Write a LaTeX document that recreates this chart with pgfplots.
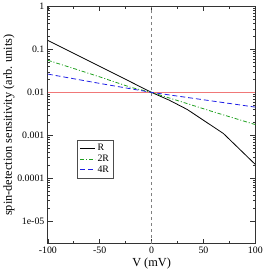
\documentclass[border=0pt]{standalone}
\usepackage{pgfplots}
\pgfplotsset{compat=1.18}
\usepackage{fontspec}
\setmainfont{Liberation Serif}
\definecolor{myred}{RGB}{240,120,120}
\definecolor{mygreen}{RGB}{30,160,30}
\definecolor{myblue}{RGB}{30,30,230}
\begin{document}
\fontsize{10}{12}\selectfont
\begin{tikzpicture}
\begin{axis}[
  name=ax,
  scale only axis,
  width=210bp, height=240bp,
  xmin=-100, xmax=100,
  ymode=log, ymin=3e-6, ymax=1,
  xtick={-100,-50,0,50,100},
  minor x tick num=1,
  ytick={1e-5,1e-4,1e-3,1e-2,1e-1,1},
  yticklabels={1e-05,0.0001,0.001,0.01,0.1,1},
  tick align=inside,
  major tick length=5bp, minor tick length=2.5bp,
  xtick pos=both, ytick pos=both,
  /pgf/number format/assume math mode=true,
  tick label style={font=\fontsize{10}{12}\selectfont},
  xlabel={V (mV)},
  ylabel={spin-detection sensitivity (arb. units)},
  label style={font=\fontsize{12.5}{14}\selectfont},
  xlabel style={yshift=3bp},
  ylabel style={yshift=-4bp},
  axis line style={black!80, line width=0.8bp},
  every tick/.style={black!80, line width=0.6bp},
  legend style={at={(0.142,0.4375)}, anchor=north west, draw=black!70,
    font=\fontsize{10}{11}\selectfont, row sep=-1bp, inner xsep=2.5bp, inner ysep=2bp},
  legend cell align=left,
  legend image code/.code={\draw[#1] (0bp,0bp) -- (12bp,0bp); \path (0bp,0bp) -- (15bp,0bp);},
]
\addplot[forget plot, myred, line width=1.3bp] coordinates {(-100,0.01) (100,0.01)};
\addplot[forget plot, gray, dashed, line width=0.8bp] coordinates {(0,3e-6) (0,1)};
\addplot[black, line width=0.8bp] coordinates {
(-100,0.162) (-50,0.0405) (0,0.01) (17,0.0066) (34.4,0.0040) (69.3,0.0011) (100,0.00021)};
\addlegendentry{R}
\addplot[mygreen, dash pattern=on 4bp off 2bp on 1bp off 2bp, line width=0.8bp] coordinates {
(-100,0.056) (-75,0.036) (-50,0.023) (-20,0.0131) (0,0.01) (60,0.0035) (100,0.00178)};
\addlegendentry{2R}
\addplot[myblue, dash pattern=on 5bp off 3bp, line width=0.8bp] coordinates {
(-100,0.0267) (-50,0.0162) (0,0.01) (100,0.00454)};
\addlegendentry{4R}
\end{axis}
\path (ax.south west) ++(-47bp,-27bp) coordinate (bl);
\path (ax.north east) ++(9.7bp,5bp) coordinate (tr);
\path (bl) rectangle (tr);
\end{tikzpicture}
\end{document}
